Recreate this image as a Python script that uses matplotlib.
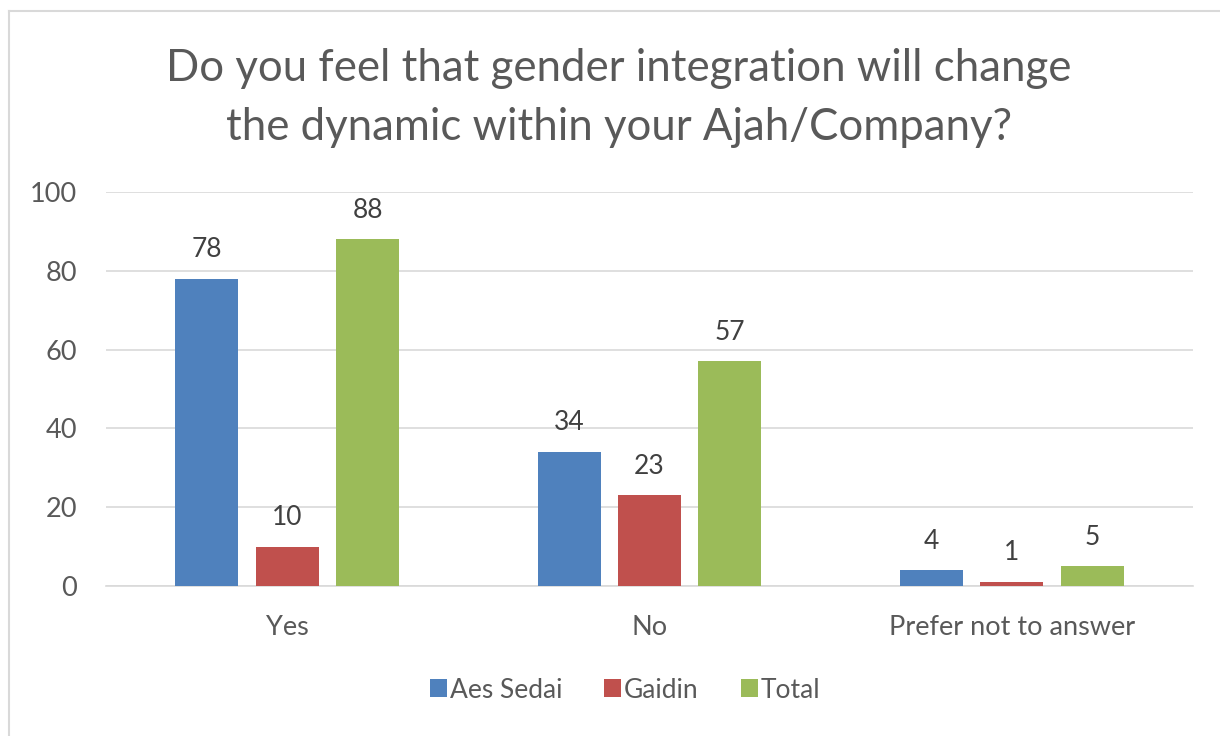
import matplotlib
matplotlib.use("Agg")
import matplotlib.pyplot as plt
import numpy as np
from matplotlib.lines import Line2D
from matplotlib.patches import Patch

categories = ["Yes", "No", "Prefer not to answer"]
series_names = ["Aes Sedai", "Gaidin", "Total"]
aes_sedai = [78, 34, 4]
gaidin = [10, 23, 1]
total = [88, 57, 5]
yticks = [0, 20, 40, 60, 80, 100]

colors = ["#4f81bd", "#c0504d", "#9bbb59"]
text_col = "#595959"
plt.rcParams["font.family"] = ["Lato", "DejaVu Sans"]

fig = plt.figure(figsize=(12.2, 7.36), dpi=100)
ax = fig.add_axes([106 / 1220, 1 - 586 / 736, (1193 - 106) / 1220, (586 - 192) / 736])

x = np.arange(len(categories))
width = 0.174
step = 0.222
for i, (vals, name) in enumerate(zip([aes_sedai, gaidin, total], series_names)):
    pos = x + (i - 1) * step
    ax.bar(pos, vals, width, color=colors[i], label=name, zorder=3)
    for p, v in zip(pos, vals):
        ax.annotate(str(v), (p, v), xytext=(0, 12), textcoords="offset points",
                    ha="center", va="bottom", fontsize=19, color="#404040")

ax.set_xlim(-0.5, 2.5)
ax.set_ylim(0, 100)
ax.set_yticks(yticks)
ax.set_xticks(x)
ax.set_xticklabels(categories)
ax.yaxis.grid(True, color="#d9d9d9", linewidth=1.2, zorder=0)
for s in ["top", "right", "left"]:
    ax.spines[s].set_visible(False)
ax.spines["bottom"].set_color("#d9d9d9")
ax.spines["bottom"].set_linewidth(1.2)
ax.tick_params(axis="both", length=0, labelsize=19.5, labelcolor=text_col)
ax.tick_params(axis="x", pad=21)
ax.tick_params(axis="y", pad=21)

fig.text(0.507, 1 - 98 / 736, "Do you feel that gender integration will change\nthe dynamic within your Ajah/Company?",
         ha="center", va="center", fontsize=31.5, color=text_col, linespacing=1.55)

handles = [Patch(facecolor=c, label=n) for c, n in zip(colors, series_names)]
fig.legend(handles=handles, loc="center", bbox_to_anchor=(625 / 1220, 1 - 690 / 736), ncol=3,
           frameon=False, fontsize=19, handlelength=0.65, handleheight=0.65, handletextpad=0.1,
           columnspacing=1.6, labelcolor=text_col)

fig.add_artist(Line2D([9 / 1220, 9 / 1220], [0, 1 - 11 / 736], color="#d9d9d9", linewidth=1.5))
fig.add_artist(Line2D([9 / 1220, 1], [1 - 11 / 736, 1 - 11 / 736], color="#d9d9d9", linewidth=1.5))

plt.savefig("out.png", dpi=100)
plt.close()
